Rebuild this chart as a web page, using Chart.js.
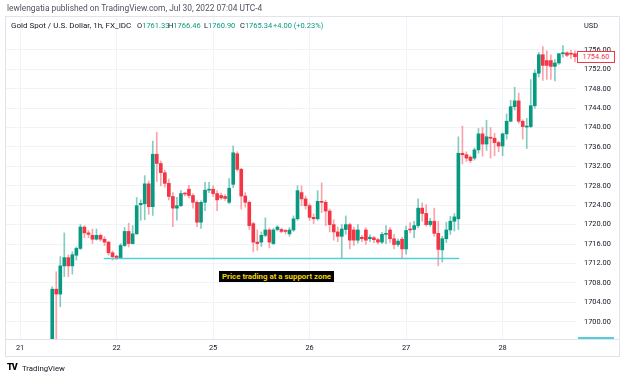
<!DOCTYPE html>
<html>
<head>
<meta charset="utf-8">
<script src="https://cdn.jsdelivr.net/npm/chart.js@4.4.1/dist/chart.umd.min.js"></script>
<style>
html,body{margin:0;padding:0;background:#fff;}
#wrap{position:relative;width:624px;height:379px;overflow:hidden;font-family:Roboto,"Open Sans",sans-serif;}
#c{position:absolute;left:0;top:0;}
.t{position:absolute;white-space:nowrap;font-size:7.4px;line-height:9px;color:#131722;}
.lg{font-size:7.5px;}
.v{color:#089981;}
#frame{position:absolute;left:5px;top:16px;width:615px;height:341px;border:1px solid #e0e3eb;box-sizing:border-box;pointer-events:none;}
#sep{position:absolute;left:5px;top:339px;width:615px;height:1px;background:#e0e3eb;}
#note{position:absolute;left:219px;top:271px;background:#000;color:#f2d40c;font-weight:bold;font-size:7.9px;line-height:11px;padding:0 3px;white-space:nowrap;}
#plabel{position:absolute;left:577px;top:51px;width:36px;height:10px;border:1px solid #f23645;background:#fff;color:#f23645;font-size:7.4px;line-height:10px;text-align:center;box-sizing:content-box;}
#cyan{position:absolute;left:578px;top:337px;width:36px;height:2px;background:#52cfdc;}
</style>
</head>
<body>
<div id="wrap">
<canvas id="c" width="624" height="379"></canvas>
<div id="frame"></div>
<div id="sep"></div>
<div class="t" style="left:7px;top:4px;font-size:8.4px;color:#50535e">lewlengatia published on TradingView.com, Jul 30, 2022 07:04 UTC-4</div>
<div class="t lg" style="left:11px;top:21px;font-size:8px">Gold Spot / U.S. Dollar, 1h, FX_IDC</div>
<div class="t lg" style="left:137px;top:21px">O<span class="v">1761.33</span></div>
<div class="t lg" style="left:168px;top:21px">H<span class="v">1766.46</span></div>
<div class="t lg" style="left:204px;top:21px">L<span class="v">1760.90</span></div>
<div class="t lg" style="left:240px;top:21px">C<span class="v">1765.34</span></div>
<div class="t lg v" style="left:273px;top:21px">+4.00 (+0.23%)</div>
<div class="t" style="left:584px;top:21px">USD</div>
<div id="plabel">1754.60</div>
<div id="cyan"></div>
<div id="note">Price trading at a support zone</div>
<div class="t" style="left:7px;top:363px;font-weight:900;font-size:9px;letter-spacing:-1px;color:#000">TV</div>
<div class="t" style="left:22px;top:364px;font-size:7.8px">TradingView</div>
</div>
<script>
// ---- data (hourly candles, Gold Spot / USD, FX_IDC) ----
const dayLabels = ['21', '22', '25', '26', '27', '28'];
const dayStartBar = [-8, 16, 40, 64, 88, 112];
const priceTicks = [1700, 1704, 1708, 1712, 1716, 1720, 1724, 1728, 1732, 1736, 1740, 1744, 1748, 1752, 1756];

const open = [1693.5,1706.7,1705.7,1711.5,1713.2,1711.5,1713.7,1715.1,1719.5,1718.3,1717.8,1717.0,1717.8,1717.0,1716.4,1714.2,1713.5,1713.2,1715.7,1718.6,
1716.1,1718.1,1724.1,1724.3,1728.4,1723.7,1734.5,1732.6,1730.7,1728.5,1725.8,1723.4,1723.9,1726.4,1727.3,1726.0,1724.6,1720.5,1724.6,1727.1,
1727.3,1726.4,1726.0,1725.8,1724.6,1728.3,1734.6,1731.4,1725.9,1724.6,1720.2,1716.4,1716.4,1717.8,1718.9,1716.1,1719.0,1719.0,1718.8,1718.1,
1718.9,1721.2,1726.6,1725.3,1723.9,1721.5,1721.2,1724.8,1724.6,1722.8,1720.0,1718.5,1717.6,1719.0,1720.0,1718.9,1716.8,1717.4,1718.9,1717.1,
1717.3,1716.9,1716.4,1718.0,1718.9,1717.1,1715.9,1717.0,1715.0,1719.1,1719.0,1719.8,1723.4,1722.3,1720.0,1720.7,1718.2,1714.8,1717.1,1718.9,
1720.7,1721.2,1734.7,1734.4,1733.9,1733.7,1735.4,1738.7,1736.6,1738.0,1737.8,1736.9,1736.2,1738.7,1741.3,1744.3,1745.5,1741.3,1740.1,1740.2,
1744.5,1751.2,1755.0,1753.8,1753.8,1752.6,1753.3,1755.2,1755.4,1755.3,1755.2];
const high = [1707.2,1710.3,1713.4,1718.3,1713.8,1714.4,1715.4,1720.0,1719.8,1718.8,1719.1,1719.1,1718.1,1717.5,1716.6,1714.6,1713.7,1716.1,1719.4,1720.3,
1719.8,1725.6,1725.1,1730.1,1729.0,1737.2,1739.0,1733.1,1731.2,1729.4,1726.6,1725.6,1727.0,1726.6,1728.1,1726.4,1724.9,1724.9,1728.7,1728.7,
1728.0,1727.0,1726.5,1726.2,1729.5,1736.2,1735.0,1731.6,1726.6,1724.9,1720.5,1718.9,1718.5,1721.4,1719.3,1719.2,1719.8,1719.3,1719.0,1719.4,
1721.8,1728.0,1728.0,1725.9,1724.3,1722.2,1727.0,1728.6,1725.0,1723.2,1721.0,1719.5,1720.0,1721.8,1720.3,1719.5,1720.0,1717.8,1719.4,1717.9,
1717.6,1717.2,1718.4,1719.8,1719.4,1718.0,1717.0,1717.4,1719.7,1720.4,1720.7,1725.3,1724.5,1724.1,1721.3,1723.4,1720.7,1717.6,1720.5,1721.7,
1722.3,1738.1,1740.3,1735.0,1734.2,1735.8,1739.8,1740.0,1741.5,1740.0,1738.8,1737.2,1738.9,1742.8,1745.6,1748.3,1747.1,1741.6,1741.9,1749.9,
1751.9,1755.5,1756.7,1755.8,1755.0,1754.0,1755.3,1756.9,1755.6,1755.9,1755.8];
const low = [1692.0,1695.0,1703.1,1709.3,1709.3,1709.8,1712.7,1714.9,1717.3,1717.3,1716.1,1716.8,1716.6,1715.7,1713.7,1712.7,1712.8,1713.0,1715.5,1715.4,
1716.0,1718.0,1720.9,1721.0,1722.1,1721.9,1728.9,1728.0,1727.7,1725.1,1719.6,1720.9,1723.7,1725.9,1725.5,1723.4,1719.6,1719.2,1722.9,1726.6,
1725.8,1722.9,1725.2,1725.0,1724.3,1727.6,1731.0,1723.2,1723.6,1719.0,1714.4,1714.7,1715.5,1717.5,1715.2,1715.9,1718.7,1718.3,1718.1,1717.6,
1718.6,1720.9,1723.9,1723.2,1720.9,1720.2,1720.9,1722.5,1719.8,1718.5,1716.8,1716.5,1713.0,1718.0,1715.0,1715.7,1716.2,1716.5,1715.9,1716.5,
1716.3,1716.0,1716.1,1716.1,1716.3,1715.0,1715.5,1713.2,1713.9,1718.3,1717.3,1719.3,1720.7,1719.7,1719.6,1717.6,1711.5,1712.3,1716.3,1718.0,
1718.7,1719.0,1732.5,1733.0,1732.8,1733.3,1734.7,1734.1,1735.3,1733.7,1734.2,1735.0,1734.2,1737.6,1741.2,1743.6,1740.9,1737.6,1735.7,1740.0,
1744.0,1750.4,1749.7,1749.9,1749.9,1749.6,1753.0,1754.5,1754.6,1754.2,1753.5];
const close = [1706.7,1705.7,1711.5,1713.2,1711.5,1713.8,1715.1,1719.5,1718.3,1718.0,1717.0,1717.8,1717.0,1716.4,1714.2,1713.4,1713.2,1715.7,1718.6,1716.1,
1718.1,1723.9,1724.4,1728.4,1723.7,1734.5,1732.6,1730.7,1728.5,1725.8,1723.4,1723.9,1726.4,1726.3,1726.0,1724.6,1720.5,1724.6,1727.1,1727.3,
1726.4,1725.1,1725.5,1725.4,1727.5,1734.8,1731.4,1725.9,1724.6,1719.8,1716.4,1716.1,1717.8,1718.9,1716.4,1718.9,1719.5,1718.6,1718.6,1718.9,
1721.2,1727.0,1725.3,1723.9,1721.5,1721.2,1724.8,1724.6,1722.8,1720.0,1718.5,1717.6,1719.1,1720.0,1716.8,1716.8,1718.9,1717.1,1716.8,1717.4,
1716.9,1716.4,1718.0,1718.1,1717.1,1715.9,1716.6,1715.0,1718.8,1718.9,1719.8,1723.4,1722.3,1720.0,1720.7,1718.2,1714.9,1717.1,1718.9,1720.7,
1721.6,1734.7,1734.4,1733.7,1733.2,1735.4,1738.7,1736.6,1738.1,1737.8,1736.9,1736.2,1738.7,1741.3,1744.3,1745.5,1741.3,1740.2,1740.2,1744.5,
1751.2,1755.0,1752.8,1752.8,1752.6,1753.3,1755.2,1755.4,1754.9,1755.1,1754.6];

const supportLevel = 1713.0;
const supportSpan = [12.8, 101.2];
// ---------------------------------------------------------

const UP = '#089981', DOWN = '#f23645';
const UP_WICK = 'rgba(8,153,129,0.5)', DOWN_WICK = 'rgba(242,54,69,0.45)';
const isUp = open.map((o, i) => close[i] >= o);
const font = {family: 'Roboto', size: 7.4};

new Chart(document.getElementById('c'), {
  type: 'bar',
  data: {
    datasets: [
      {
        type: 'line',
        data: [{x: supportSpan[0], y: supportLevel}, {x: supportSpan[1], y: supportLevel}],
        borderColor: '#52cfdc', borderWidth: 1.5, pointRadius: 0, clip: 0, order: 0
      },
      {
        data: open.map((o, i) => ({x: i, y: [o, close[i]]})),
        backgroundColor: isUp.map(u => u ? UP : DOWN),
        barThickness: 3, minBarLength: 1, grouped: false, clip: 0, order: 1
      },
      {
        data: open.map((o, i) => ({x: i, y: [low[i], high[i]]})),
        backgroundColor: isUp.map(u => u ? UP_WICK : DOWN_WICK),
        barThickness: 1, grouped: false, clip: 0, order: 2
      }
    ]
  },
  options: {
    responsive: false,
    animation: false,
    events: [],
    layout: {padding: {left: 6, top: 16, right: 0, bottom: 22}},
    plugins: {legend: {display: false}, tooltip: {enabled: false}},
    scales: {
      x: {
        type: 'linear', min: -11.5, max: 130.5, offset: false,
        grid: {color: '#f0f3fa', drawTicks: false, offset: false},
        border: {display: false},
        afterBuildTicks: s => { s.ticks = dayStartBar.map(v => ({value: v})); },
        afterFit: s => { s.height = 18; },
        ticks: {autoSkip: false, maxRotation: 0, padding: 5, font: font, color: '#131722',
                callback: (v, i) => dayLabels[i]}
      },
      y: {
        position: 'right', min: 1696.44, max: 1762.98,
        grid: {color: '#f0f3fa', drawTicks: false},
        border: {display: false},
        afterBuildTicks: s => { s.ticks = priceTicks.map(v => ({value: v})); },
        afterFit: s => { s.width = 47; },
        ticks: {padding: 7, font: font, color: '#131722', callback: v => v.toFixed(2)}
      }
    }
  }
});
</script>
</body>
</html>
